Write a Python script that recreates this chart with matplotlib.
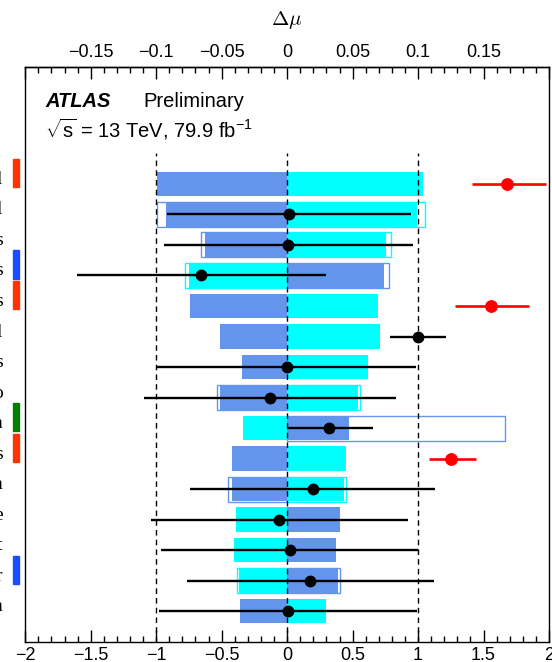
import matplotlib
matplotlib.use("Agg")
import matplotlib.pyplot as plt
import matplotlib.transforms as mtransforms
from matplotlib.patches import Rectangle
from matplotlib.ticker import MultipleLocator, FuncFormatter
import numpy as np

# --- data (15 nuisance parameters, top to bottom) ---
labels = ['l', 'l', 's', 's', 's', 'l', 's', 'o', 'n', 's', 'n', 'e', 't', 'r', 'n']

# post-fit impact on mu (delta mu), +1 sigma (cyan) and -1 sigma (blue)
post_up = [0.1037, 0.0991, 0.0758, -0.0748, 0.0696, 0.0709, 0.0618, 0.0541,
           -0.0334, 0.0450, 0.0437, -0.0393, -0.0406, -0.0365, 0.0300]
post_down = [-0.0994, -0.0929, -0.0626, 0.0737, -0.0740, -0.0510, -0.0342, -0.0515,
             0.0473, -0.0422, -0.0422, 0.0404, 0.0370, 0.0391, -0.0362]

# pre-fit impact (open boxes), nan where not drawn
pre_up = [np.nan, 0.1056, 0.0794, -0.0781, np.nan, np.nan, np.nan, 0.0556,
          np.nan, np.nan, 0.0450, np.nan, np.nan, -0.0383, np.nan]
pre_down = [np.nan, -0.0994, -0.0657, 0.0776, np.nan, np.nan, np.nan, -0.0533,
            0.1664, np.nan, -0.0453, np.nan, np.nan, 0.0406, np.nan]

# pulls (black) and normalisation factors (red)
pull = [np.nan, 0.015, 0.010, -0.655, np.nan, 1.000, 0.000, -0.132,
        0.321, np.nan, 0.197, -0.062, 0.021, 0.176, 0.005]
pull_lo = [np.nan, 0.935, 0.950, 0.949, np.nan, 0.213, 1.000, 0.958,
           0.321, np.nan, 0.940, 0.981, 0.986, 0.942, 0.986]
pull_hi = [np.nan, 0.932, 0.950, 0.953, np.nan, 0.210, 0.986, 0.962,
           0.334, np.nan, 0.936, 0.983, 0.979, 0.944, 0.989]

norm = [1.680, np.nan, np.nan, np.nan, 1.558, np.nan, np.nan, np.nan,
        np.nan, 1.252, np.nan, np.nan, np.nan, np.nan, np.nan]
norm_lo = [0.270, np.nan, np.nan, np.nan, 0.278, np.nan, np.nan, np.nan,
           np.nan, 0.168, np.nan, np.nan, np.nan, np.nan, np.nan]
norm_hi = [0.300, np.nan, np.nan, np.nan, 0.292, np.nan, np.nan, np.nan,
           np.nan, 0.194, np.nan, np.nan, np.nan, np.nan, np.nan]

# category markers on the left
marker_rows = [0, 3, 4, 8, 9, 13]
marker_cols = ['#ff3300', '#1a4dff', '#ff3300', '#008000', '#ff3300', '#1a4dff']

SCALE = 10.0  # bottom axis units per delta mu
BLUE = '#6495ed'
CYAN = '#00ffff'

plt.rcParams['font.family'] = ['Liberation Sans', 'DejaVu Sans']
plt.rcParams['mathtext.fontset'] = 'custom'
plt.rcParams['mathtext.rm'] = 'Liberation Sans'
plt.rcParams['mathtext.it'] = 'Liberation Sans:italic'

fig = plt.figure(figsize=(5.52, 6.62), dpi=100)
ax = fig.add_axes([0.0458, 0.0307, 0.9488, 0.8685])

n = len(labels)
ypos = np.arange(n)[::-1].astype(float)

up = np.array(post_up) * SCALE
dn = np.array(post_down) * SCALE
pu = np.array(pre_up) * SCALE
pd_ = np.array(pre_down) * SCALE

# pre-fit open boxes
h = 0.82
m = ~np.isnan(pu)
ax.barh(ypos[m], pu[m], height=h, facecolor='none', edgecolor=CYAN, lw=1.0, zorder=1)
m = ~np.isnan(pd_)
ax.barh(ypos[m], pd_[m], height=h, facecolor='none', edgecolor=BLUE, lw=1.0, zorder=1)

# post-fit filled boxes
ax.barh(ypos, dn, height=0.8, color=BLUE, zorder=2)
ax.barh(ypos, up, height=0.8, color=CYAN, zorder=2)

# reference lines
ax.vlines([-1, 0, 1], -1.0, 15.0, colors='black', lw=1.0,
          linestyles=(0, (4, 3)), zorder=3)

# pulls
ax.errorbar(pull, ypos, xerr=[pull_lo, pull_hi], fmt='o', color='black',
            ms=7.5, lw=1.7, capsize=0, zorder=4)
ax.errorbar(norm, ypos, xerr=[norm_lo, norm_hi], fmt='o', color='red',
            ms=8.2, lw=1.9, capsize=0, zorder=4)

# axes styling
ax.set_xlim(-2, 2)
ax.set_ylim(-1.0, 17.84)


def tick_fmt(v, p, edge=None):
    if edge is not None and abs(v) > edge:
        return ''
    return ('%g' % round(v, 6)).replace('-', '\u2212')


ax.xaxis.set_major_locator(MultipleLocator(0.5))
ax.xaxis.set_minor_locator(MultipleLocator(0.1))
ax.xaxis.set_major_formatter(FuncFormatter(tick_fmt))
ax.tick_params(axis='x', which='major', direction='in', length=8.4, width=1.0,
               labelsize=13, pad=4)
ax.tick_params(axis='x', which='minor', direction='in', length=4.3, width=1.0)

ax.set_yticks(ypos, labels)
ax.tick_params(axis='y', length=0, pad=16.4, labelsize=14)
for t in ax.get_yticklabels():
    t.set_family('Liberation Serif')
    t.set_verticalalignment('baseline')
for s in ax.spines.values():
    s.set_linewidth(1.0)

sec = ax.secondary_xaxis('top', functions=(lambda x: x / SCALE, lambda x: x * SCALE))
sec.xaxis.set_major_locator(MultipleLocator(0.05))
sec.xaxis.set_minor_locator(MultipleLocator(0.01))
sec.xaxis.set_major_formatter(FuncFormatter(lambda v, p: tick_fmt(v, p, edge=0.18)))
sec.tick_params(axis='x', which='major', direction='in', length=8.4, width=1.0,
                labelsize=13, pad=4)
sec.tick_params(axis='x', which='minor', direction='in', length=4.3, width=1.0)
sec.set_xlabel(r'$\Delta\mu$', fontsize=15, labelpad=14, math_fontfamily='cm')
sec.spines['top'].set_linewidth(1.0)

# category markers, outside the frame
trans = mtransforms.blended_transform_factory(fig.transFigure, ax.transData)
for r, c in zip(marker_rows, marker_cols):
    ax.add_patch(Rectangle((12.7 / 552, ypos[r] - 0.1), 6.0 / 552, 0.92,
                           transform=trans, color=c, clip_on=False))

# ATLAS label
ax.text(0.0376, 0.930, 'ATLAS', transform=ax.transAxes, fontsize=14.5,
        fontweight='bold', fontstyle='italic')
ax.text(0.2248, 0.930, 'Preliminary', transform=ax.transAxes, fontsize=14.5)
ax.text(0.0376, 0.8777, r'$\sqrt{\mathrm{s}}$ = 13 TeV, 79.9 fb$^{\mathrm{-1}}$',
        transform=ax.transAxes, fontsize=14.5)

fig.savefig('out.png', dpi=100)
plt.close(fig)
